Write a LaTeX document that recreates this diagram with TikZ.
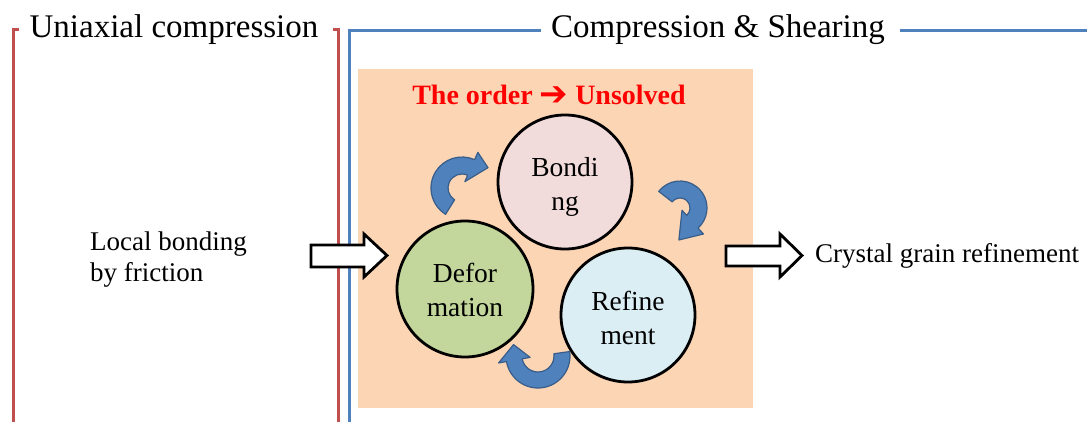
\documentclass[tikz,border=0pt]{standalone}
\usepackage{fontspec}
\setmainfont{Liberation Serif}
\newfontfamily\dejavu{DejaVu Sans}
\definecolor{myred}{HTML}{C0504D}
\definecolor{myblue}{HTML}{4F81BD}
\definecolor{panelfill}{HTML}{FCD5B4}
\definecolor{bondfill}{HTML}{F2DCDB}
\definecolor{deffill}{HTML}{C3D69B}
\definecolor{reffill}{HTML}{DBEEF4}
\definecolor{arrowfill}{HTML}{4F81BD}
\definecolor{arrowedge}{HTML}{385D8A}
\definecolor{ordred}{HTML}{FF0000}
\begin{document}
\begin{tikzpicture}[x=1pt,y=1pt,
  redline/.style={draw=myred, line width=3pt},
  blueline/.style={draw=myblue, line width=3pt},
  titletext/.style={inner sep=0pt, font=\fontsize{33}{38}\selectfont},
  sidetext/.style={inner sep=0pt, font=\fontsize{27}{31}\selectfont, align=left},
  circ/.style={circle, draw=black, line width=2.8pt, inner sep=0pt},
  circtext/.style={inner sep=0pt, align=center, font=\fontsize{27.5}{34}\selectfont},
  blockarrow/.style={draw=black, fill=white, line width=2.8pt, line join=miter},
  carrow/.style={fill=arrowfill, draw=arrowedge, line width=1.2pt, line join=round}]
\useasboundingbox (0,0) rectangle (1087,421);
\fill[white] (0,0) rectangle (1087,421);
% panel
\fill[panelfill] (358,13) rectangle (753,352);
% brackets
\draw[redline] (19,391) -- (13,391) -- (13,-3);
\draw[redline] (333,391) -- (338,391) -- (338,-3);
\draw[blueline] (541,390) -- (349,390) -- (349,-3);
\draw[blueline] (900,390) -- (1090,390);
% titles
\node[titletext, anchor=base] (uni) at (174,383) {Uniaxial compression};
\node[titletext, anchor=base] (cs) at (718,383) {Compression \& Shearing};
% order text
\node[inner sep=0pt, anchor=base, text=ordred, font=\fontsize{28}{32}\selectfont\bfseries] (order) at (549,316)
  {The order {\dejavu\fontsize{34}{34}\selectfont\raisebox{-1pt}{➔}} Unsolved};
% circles
\node[circ, fill=bondfill, minimum size=134pt] (bond) at (565,239) {};
\node[circ, fill=deffill, minimum size=136pt] (def) at (465,132) {};
\node[circ, fill=reffill, minimum size=134pt] (ref) at (628,106) {};
\node[circtext] (bondtxt) at ([yshift=-5pt]bond.center) {Bondi\\ng};
\node[circtext] (deftxt) at ([yshift=-1pt]def.center) {Defor\\mation};
\node[circtext] (reftxt) at ([yshift=-3pt]ref.center) {Refine\\ment};
% curved arrows
\draw[carrow, shift={(462,233)}] (238:31pt) arc[start angle=238, end angle=66, radius=31pt]
  -- (66:39pt) -- (38:33pt) -- (66:7pt) -- (66:14pt)
  arc[start angle=66, end angle=238, radius=14pt] -- cycle;
\draw[carrow, shift={(680,213)}] (142:27pt) arc[start angle=142, end angle=-48, radius=27pt]
  -- (-48:35pt) -- (-92:32pt) -- (-48:3pt) -- (-48:10pt)
  arc[start angle=-48, end angle=142, radius=10pt] -- cycle;
\draw[carrow, shift={(538,65)}] (8:32pt) arc[start angle=8, end angle=-170, radius=32pt]
  -- (-170:40pt) -- (-205:27pt) -- (-170:8pt) -- (-170:16pt)
  arc[start angle=-170, end angle=8, radius=16pt] -- cycle;
% side texts
\node[sidetext, anchor=north west] (local) at (90,189.5) {Local bonding\\by friction};
\node[sidetext, anchor=base west] (crystal) at (815,159) {Crystal grain refinement};
% block arrows
\draw[blockarrow] (311,176) -- (364,176) -- (364,187) -- (387,165.5) -- (364,144) -- (364,154) -- (311,154) -- cycle;
\draw[blockarrow] (726,175) -- (780,175) -- (780,187) -- (802,165.5) -- (780,144) -- (780,155) -- (726,155) -- cycle;
\end{tikzpicture}
\end{document}
